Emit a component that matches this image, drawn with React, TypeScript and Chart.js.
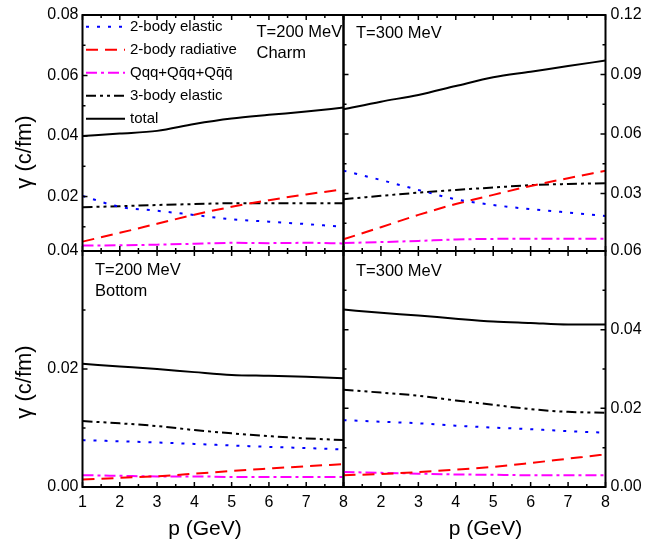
import React, { useEffect, useRef } from 'react';
import { Chart, registerables } from 'chart.js';

Chart.register(...registerables);

// ---------------- data ----------------
const P_GEV = [1, 2, 3, 4, 5, 6, 7, 8];
const SERIES_LABELS = ['2-body elastic', '2-body radiative', 'Qqq+Qq\u0304q+Qq\u0304q\u0304', '3-body elastic', 'total'];
const X_TITLE = 'p (GeV)';
const Y_TITLE = '\u03b3 (c/fm)';

// Charm, T = 200 MeV
const charm200Elastic2 = [0.0202, 0.0166, 0.0153, 0.0139, 0.0125, 0.0117, 0.0109, 0.0100];
const charm200Radiative = [0.0051, 0.0080, 0.0110, 0.0140, 0.0166, 0.0188, 0.0207, 0.0224];
const charm200Qqq = [0.0038, 0.0039, 0.0041, 0.0044, 0.0047, 0.0046, 0.0047, 0.0045];
const charm200Elastic3 = [0.0165, 0.0168, 0.0172, 0.0175, 0.0178, 0.0178, 0.0178, 0.0178];
const charm200Total = [0.0400, 0.0408, 0.0417, 0.0440, 0.0458, 0.0470, 0.0481, 0.0494];

// Charm, T = 300 MeV
const charm300Elastic2 = [0.0415, 0.0368, 0.0318, 0.0271, 0.0242, 0.0221, 0.0204, 0.0187];
const charm300Radiative = [0.0069, 0.0130, 0.0192, 0.0247, 0.0293, 0.0338, 0.0377, 0.0415];
const charm300Qqq = [0.0050, 0.0055, 0.0061, 0.0068, 0.0071, 0.0072, 0.0072, 0.0072];
const charm300Elastic3 = [0.0271, 0.0288, 0.0304, 0.0318, 0.0330, 0.0342, 0.0348, 0.0352];
const charm300Total = [0.0725, 0.0763, 0.0797, 0.0842, 0.0886, 0.0914, 0.0943, 0.0970];

// Bottom, T = 200 MeV
const bottom200Elastic2 = [0.00795, 0.00775, 0.00755, 0.0073, 0.00704, 0.0068, 0.0066, 0.00636];
const bottom200Radiative = [0.00126, 0.00155, 0.00182, 0.00225, 0.00272, 0.00313, 0.00352, 0.00386];
const bottom200Qqq = [0.0020, 0.0019, 0.0018, 0.0018, 0.0017, 0.0017, 0.0017, 0.0017];
const bottom200Elastic3 = [0.01118, 0.01079, 0.01033, 0.00965, 0.00909, 0.00863, 0.00824, 0.00795];
const bottom200Total = [0.02088, 0.02043, 0.01998, 0.01947, 0.0190, 0.01884, 0.01867, 0.01845];

// Bottom, T = 300 MeV
const bottom300Elastic2 = [0.0170, 0.0166, 0.0162, 0.0156, 0.0151, 0.0147, 0.0142, 0.0138];
const bottom300Radiative = [0.0030, 0.0033, 0.0038, 0.0044, 0.0051, 0.0061, 0.0072, 0.0083];
const bottom300Qqq = [0.0038, 0.0036, 0.0034, 0.0032, 0.0031, 0.0030, 0.0030, 0.0030];
const bottom300Elastic3 = [0.0247, 0.0240, 0.0232, 0.0220, 0.0209, 0.0198, 0.0191, 0.0189];
const bottom300Total = [0.0451, 0.0443, 0.0436, 0.0428, 0.0421, 0.0417, 0.0413, 0.0413];

// tick values
const X_TICKS = [1, 2, 3, 4, 5, 6, 7, 8];
const X_MINOR = [1.5, 2.5, 3.5, 4.5, 5.5, 6.5, 7.5];
const TL_Y_TICKS = [0.02, 0.04, 0.06, 0.08];
const TL_Y_MINOR = [0.01, 0.03, 0.05, 0.07];
const TR_Y_TICKS = [0.03, 0.06, 0.09, 0.12];
const TR_Y_MINOR = [0.015, 0.045, 0.075, 0.105];
const BL_Y_TICKS = [0.0, 0.02, 0.04];
const BL_Y_MINOR = [0.01, 0.03];
const BR_Y_TICKS = [0.0, 0.02, 0.04, 0.06];
const BR_Y_MINOR = [0.01, 0.03, 0.05];

// ---------------- styles ----------------
const COLORS = ['#0000ff', '#ff0000', '#ff00ff', '#000000', '#000000'];
const DASHES = [[3, 8], [12, 7], [11, 4, 3, 4], [10, 4, 3, 4, 3, 4], []];
const FONT = 'Arial, "Liberation Sans", Helvetica, sans-serif';
const W = 657;
const H = 542;

type Panel = {
  series: number[][];
  yMin: number; yMax: number;
  yTicks: number[]; yMinor: number[];
  yPos: 'left' | 'right';
  showX: boolean; hideFirstX: boolean;
  yTitle: boolean;
  xTitleShift: number;
  yTitleShift: number;
  area: { l: number; r: number; t: number; b: number };
  notes: { text: string; dx: number; dy: number }[];
  legend: boolean;
  rightTicks: boolean;
};

const PANELS: Panel[] = [
  {
    series: [charm200Elastic2, charm200Radiative, charm200Qqq, charm200Elastic3, charm200Total],
    yMin: 0.002, yMax: 0.08, yTicks: TL_Y_TICKS, yMinor: TL_Y_MINOR, yPos: 'left',
    showX: false, hideFirstX: false, yTitle: true, xTitleShift: 0, yTitleShift: 19,
    area: { l: 82.5, r: 343.5, t: 15, b: 251 },
    notes: [{ text: 'T=200 MeV', dx: 174, dy: 17 }, { text: 'Charm', dx: 174, dy: 38 }],
    legend: true, rightTicks: false,
  },
  {
    series: [charm300Elastic2, charm300Radiative, charm300Qqq, charm300Elastic3, charm300Total],
    yMin: 0.001, yMax: 0.12, yTicks: TR_Y_TICKS, yMinor: TR_Y_MINOR, yPos: 'right',
    showX: false, hideFirstX: false, yTitle: false, xTitleShift: 0, yTitleShift: 0,
    area: { l: 343.5, r: 605.5, t: 15, b: 251 },
    notes: [{ text: 'T=300 MeV', dx: 12.5, dy: 18 }],
    legend: false, rightTicks: true,
  },
  {
    series: [bottom200Elastic2, bottom200Radiative, bottom200Qqq, bottom200Elastic3, bottom200Total],
    yMin: 0, yMax: 0.04, yTicks: BL_Y_TICKS, yMinor: BL_Y_MINOR, yPos: 'left',
    showX: true, hideFirstX: false, yTitle: true, xTitleShift: -8, yTitleShift: 13,
    area: { l: 82.5, r: 343.5, t: 251, b: 487 },
    notes: [{ text: 'T=200 MeV', dx: 12.5, dy: 19 }, { text: 'Bottom', dx: 12.5, dy: 40.5 }],
    legend: false, rightTicks: false,
  },
  {
    series: [bottom300Elastic2, bottom300Radiative, bottom300Qqq, bottom300Elastic3, bottom300Total],
    yMin: 0, yMax: 0.06, yTicks: BR_Y_TICKS, yMinor: BR_Y_MINOR, yPos: 'right',
    showX: true, hideFirstX: true, yTitle: false, xTitleShift: 11, yTitleShift: 0,
    area: { l: 343.5, r: 605.5, t: 251, b: 487 },
    notes: [{ text: 'T=300 MeV', dx: 12.5, dy: 20.5 }],
    legend: false, rightTicks: true,
  },
];

const framePlugin = {
  id: 'frameTicks',
  afterDatasetsDraw(chart: any, _args: any, opts: any) {
    const { ctx, chartArea } = chart;
    const { left, right, top, bottom } = chartArea;
    const xs = chart.scales.x;
    const ys = chart.scales.y;
    const panel: Panel = opts.panel;
    ctx.save();
    ctx.strokeStyle = '#000';
    ctx.lineWidth = 1.5;
    ctx.setLineDash([]);
    const vt = (vals: number[], len: number) => {
      vals.forEach((v) => {
        const px = xs.getPixelForValue(v);
        ctx.beginPath();
        ctx.moveTo(px, bottom); ctx.lineTo(px, bottom - len);
        ctx.moveTo(px, top); ctx.lineTo(px, top + len);
        ctx.stroke();
      });
    };
    const ht = (vals: number[], len: number) => {
      vals.forEach((v) => {
        const py = ys.getPixelForValue(v);
        if (py < top - 0.5 || py > bottom + 0.5) return;
        ctx.beginPath();
        ctx.moveTo(left, py); ctx.lineTo(left + len, py);
        if (panel.rightTicks) { ctx.moveTo(right, py); ctx.lineTo(right - len, py); }
        ctx.stroke();
      });
    };
    vt(X_TICKS, 5);
    vt(X_MINOR, 3);
    ht(panel.yTicks, 5);
    ht(panel.yMinor, 3);
    ctx.lineWidth = 2;
    ctx.strokeRect(left, top, right - left, bottom - top);

    ctx.fillStyle = '#000';
    ctx.textBaseline = 'middle';
    ctx.textAlign = 'left';

    // annotations
    ctx.font = `16.5px ${FONT}`;
    panel.notes.forEach((n) => ctx.fillText(n.text, left + n.dx, top + n.dy));

    // axis titles
    ctx.textAlign = 'center';
    ctx.font = `21px ${FONT}`;
    if (panel.showX) {
      ctx.fillText(X_TITLE, (left + right) / 2 + panel.xTitleShift, bottom + 42);
    }
    if (panel.yTitle) {
      ctx.save();
      ctx.font = `22px ${FONT}`;
      ctx.translate(left - 57.5, (top + bottom) / 2 + panel.yTitleShift);
      ctx.rotate(-Math.PI / 2);
      ctx.fillText(Y_TITLE, 0, 0);
      ctx.restore();
    }

    // legend
    if (panel.legend) {
      ctx.textAlign = 'left';
      ctx.font = `15px ${FONT}`;
      chart.data.datasets.forEach((ds: any, i: number) => {
        const y = top + 11.7 + i * 23;
        const x0 = left + 3.5;
        ctx.save();
        ctx.strokeStyle = ds.borderColor;
        ctx.lineWidth = ds.borderWidth;
        ctx.setLineDash(ds.borderDash || []);
        ctx.beginPath();
        ctx.moveTo(x0, y); ctx.lineTo(x0 + 39, y);
        ctx.stroke();
        ctx.restore();
        ctx.fillText(ds.label, x0 + 44, y);
      });
    }
    ctx.restore();
  },
};

function PanelChart({ panel }: { panel: Panel }) {
  const ref = useRef<HTMLCanvasElement | null>(null);
  useEffect(() => {
    if (!ref.current) return;
    const { l, r, t, b } = panel.area;
    const yW = panel.yPos === 'left' ? l : W - r;
    const xH = panel.showX ? H - b : 0;
    const padding = {
      left: panel.yPos === 'left' ? 0 : l,
      right: panel.yPos === 'left' ? W - r : 0,
      top: t,
      bottom: panel.showX ? 0 : H - b,
    };
    const datasets = panel.series.map((vals, i) => ({
      label: SERIES_LABELS[i],
      data: P_GEV.map((p, j) => ({ x: p, y: vals[j] })),
      borderColor: COLORS[i],
      backgroundColor: COLORS[i],
      borderWidth: 2,
      borderDash: DASHES[i],
      borderCapStyle: 'butt',
      pointRadius: 0,
      fill: false,
      cubicInterpolationMode: 'monotone',
    }));
    const chart = new Chart(ref.current, {
      type: 'line',
      data: { datasets } as any,
      plugins: [framePlugin as any],
      options: {
        animation: false,
        responsive: false,
        maintainAspectRatio: false,
        devicePixelRatio: 1,
        layout: { padding },
        font: { family: FONT },
        plugins: {
          legend: { display: false },
          tooltip: { enabled: false },
          frameTicks: { panel },
        } as any,
        scales: {
          x: {
            type: 'linear',
            min: 1,
            max: 8,
            display: panel.showX,
            position: 'bottom',
            grid: { display: false, drawTicks: false },
            border: { display: false },
            afterBuildTicks: (s: any) => { s.ticks = X_TICKS.map((v) => ({ value: v })); },
            afterFit: (s: any) => { s.height = xH; },
            ticks: {
              color: '#000',
              font: { family: FONT, size: 16 },
              padding: 6,
              maxRotation: 0,
              autoSkip: false,
              callback: (v: any) => (panel.hideFirstX && v === 1 ? '' : String(v)),
            },
            title: { display: false },
          },
          y: {
            type: 'linear',
            min: panel.yMin,
            max: panel.yMax,
            position: panel.yPos,
            grid: { display: false, drawTicks: false },
            border: { display: false },
            afterBuildTicks: (s: any) => { s.ticks = panel.yTicks.map((v) => ({ value: v })); },
            afterFit: (s: any) => { s.width = yW; },
            ticks: {
              color: '#000',
              font: { family: FONT, size: 16 },
              padding: panel.yPos === 'left' ? 4 : 5,
              callback: (v: any) => Number(v).toFixed(2),
            },
            title: { display: false },
          },
        },
      } as any,
    });
    return () => chart.destroy();
  }, [panel]);
  return (
    <canvas
      ref={ref}
      width={W}
      height={H}
      style={{ position: 'absolute', left: 0, top: 0, width: W, height: H, pointerEvents: 'none' }}
    />
  );
}

export default function App() {
  return (
    <div style={{ position: 'absolute', left: 0, top: 0, width: W, height: H, background: '#fff' }}>
      {PANELS.map((p, i) => (
        <PanelChart key={i} panel={p} />
      ))}
    </div>
  );
}
